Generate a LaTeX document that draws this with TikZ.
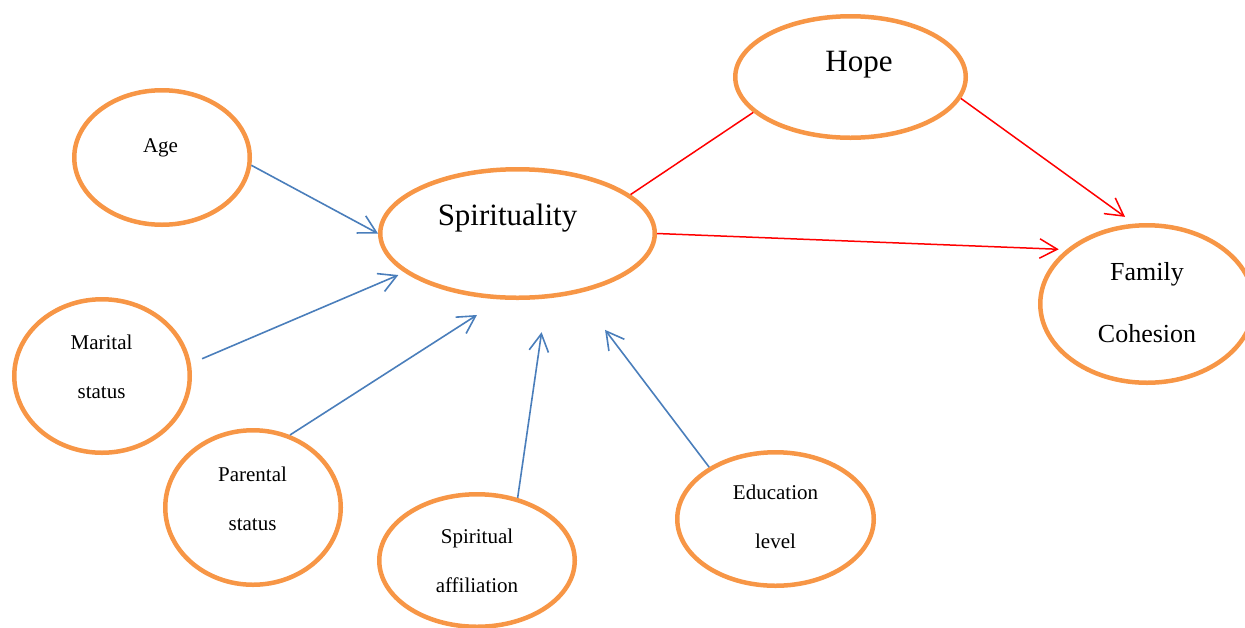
\documentclass[tikz,border=0pt]{standalone}
\usepackage{fontspec}
\setmainfont{Liberation Serif}
\usetikzlibrary{shapes.geometric,arrows.meta}
\definecolor{ovalorange}{HTML}{F79646}
\definecolor{linkblue}{HTML}{4A7EBB}
\definecolor{linkred}{HTML}{FF0000}

\begin{document}
\begin{tikzpicture}[x=0.5pt, y=-0.5pt,
   oval/.style={ellipse, draw=ovalorange, line width=2.25pt, inner sep=0pt},
   bigtxt/.style={font=\fontsize{15.5}{18}\selectfont, anchor=base},
   midtxt/.style={font=\fontsize{13}{31}\selectfont, align=center, anchor=base},
   smalltxt/.style={font=\fontsize{10.5}{24.5}\selectfont, align=center, anchor=base},
   infl/.style={color=linkblue, line width=0.8pt, -{Straight Barb[length=8.75pt,width=9.7pt]}},
   effect/.style={color=linkred, line width=0.75pt, -{Straight Barb[length=8.75pt,width=9.7pt]}}]
   \useasboundingbox (0,0) rectangle (1245,627);

   % ovals
   \node[oval, minimum width=137.25pt, minimum height=64.25pt] (spirit)   at (517.5,233.5) {};
   \node[oval, minimum width=115.25pt, minimum height=60.75pt] (hope)     at (850.5,77)    {};
   \node[oval, minimum width=106.75pt, minimum height=78.75pt] (family)   at (1147,304)    {};
   \node[oval, minimum width=87.75pt,  minimum height=67.25pt] (age)      at (162,157.5)   {};
   \node[oval, minimum width=87.75pt,  minimum height=76.75pt] (marital)  at (102,376)     {};
   \node[oval, minimum width=87.75pt,  minimum height=77.25pt] (parental) at (253,507.5)   {};
   \node[oval, minimum width=97.75pt,  minimum height=66.25pt] (affil)    at (477,560.5)   {};
   \node[oval, minimum width=98.25pt,  minimum height=66.75pt] (edu)      at (775.5,519)   {};

   % labels (base = last line)
   \node[bigtxt]   (spirit-t)   at (507.5,225)  {Spirituality};
   \node[bigtxt]   (hope-t)     at (859,71.7)   {Hope};
   \node[midtxt]   (family-t)   at (1147,342)   {Family\\Cohesion};
   \node[smalltxt] (age-t)      at (160.5,152)  {Age};
   \node[smalltxt] (marital-t)  at (101.5,398)  {Marital\\status};
   \node[smalltxt] (parental-t) at (252.5,530)  {Parental\\status};
   \node[smalltxt] (affil-t)    at (477,592)    {Spiritual\\affiliation};
   \node[smalltxt] (edu-t)      at (775.5,548)  {Education\\level};

   \path[infl]
    (age.-5)       edge (spirit.180)
    (marital.8.5)  edge [shorten <=6.1pt, shorten >=3.3pt] (spirit.199.7)
    (parental.63)  edge [shorten >=14.3pt] (spirit.256)
    (affil.57.8)   edge [shorten >=17pt] (spirit.294.5)
    (edu.142.8)    edge [shorten >=22.8pt] (spirit.315.2);

   \draw[linkred, line width=0.75pt] (spirit.19.3) -- (hope.200.3);
   \path[effect]
    (hope.-11.8)   edge [shorten >=5.7pt] (family.99.7)
    (spirit.0)     edge [shorten >=3.8pt] (family.146.6);
\end{tikzpicture}
\end{document}
